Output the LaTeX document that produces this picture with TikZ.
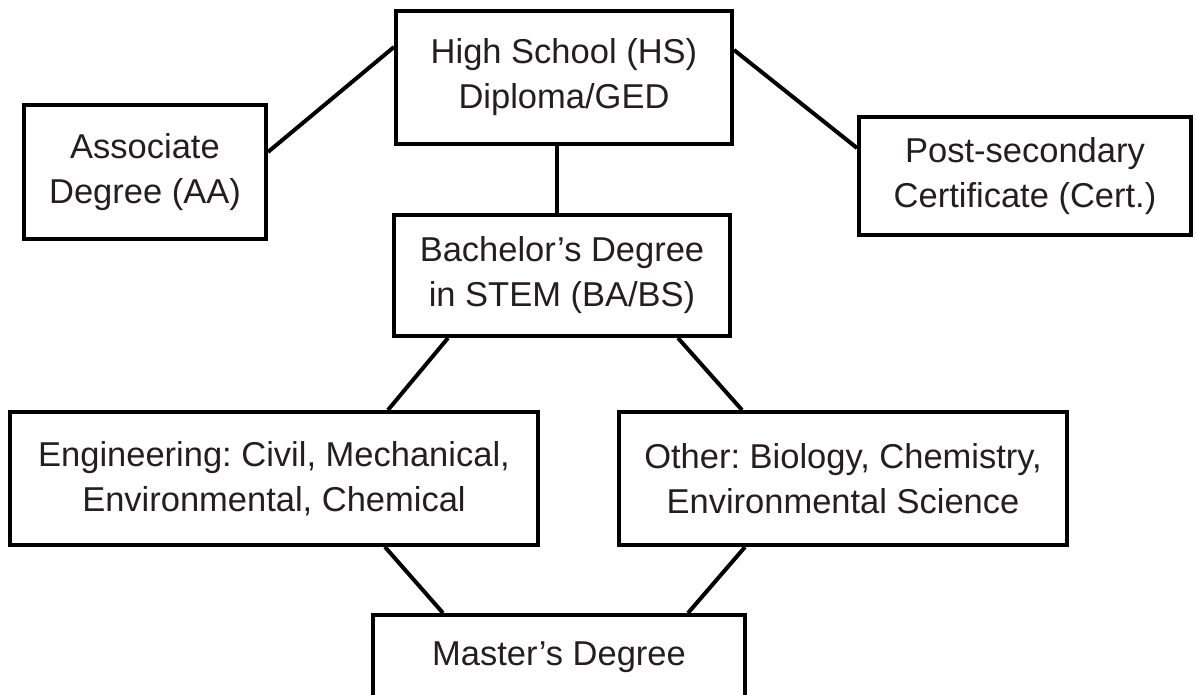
\documentclass[tikz,border=0pt]{standalone}
\usepackage{fontspec}
\setmainfont{Liberation Sans}
\definecolor{txt}{RGB}{35,31,32}
\frenchspacing
\begin{document}
\begin{tikzpicture}[x=1pt,y=-1pt,
  box/.style={draw=black,line width=4pt,inner sep=0pt,align=center,text=txt,
    font=\fontsize{34.5}{45}\selectfont},
  link/.style={draw=black,line width=4pt}]
\useasboundingbox (0,0) rectangle (1196,694);
\fill[white] (0,0) rectangle (1196,694);
\node[box,minimum width=336pt,minimum height=133pt] (hs) at (564,77.5) {High School (HS)\\Diploma/GED};
\node[box,minimum width=242pt,minimum height=134pt] (aa) at (145,172) {Associate\\Degree (AA)};
\node[box,minimum width=332pt,minimum height=118pt] (cert) at (1025,176) {Post-secondary\\Certificate (Cert.)};
\node[box,minimum width=336pt,minimum height=121pt] (ba) at (562,275.5) {Bachelor’s Degree\\in STEM (BA/BS)};
\node[box,minimum width=528pt,minimum height=133pt] (eng) at (274,478.5) {Engineering: Civil, Mechanical,\\Environmental, Chemical};
\node[box,minimum width=448pt,minimum height=133pt] (oth) at (843,478.5) {Other: Biology, Chemistry,\\Environmental Science};
\node[box,minimum width=372pt,minimum height=84pt] (ms) at (559,657) {Master’s Degree};
\draw[link] ([yshift=20pt]aa.east) -- ([yshift=30.5pt]hs.west);
\draw[link] ([yshift=27.5pt]hs.east) -- ([yshift=28pt]cert.west);
\draw[link] ([xshift=-7pt]hs.south) -- ([xshift=-5pt]ba.north);
\draw[link] ([xshift=-114pt]ba.south) -- ([xshift=114pt]eng.north);
\draw[link] ([xshift=116pt]ba.south) -- ([xshift=-101pt]oth.north);
\draw[link] ([xshift=111pt]eng.south) -- ([xshift=-116pt]ms.north);
\draw[link] ([xshift=-98pt]oth.south) -- ([xshift=129pt]ms.north);
\end{tikzpicture}
\end{document}
